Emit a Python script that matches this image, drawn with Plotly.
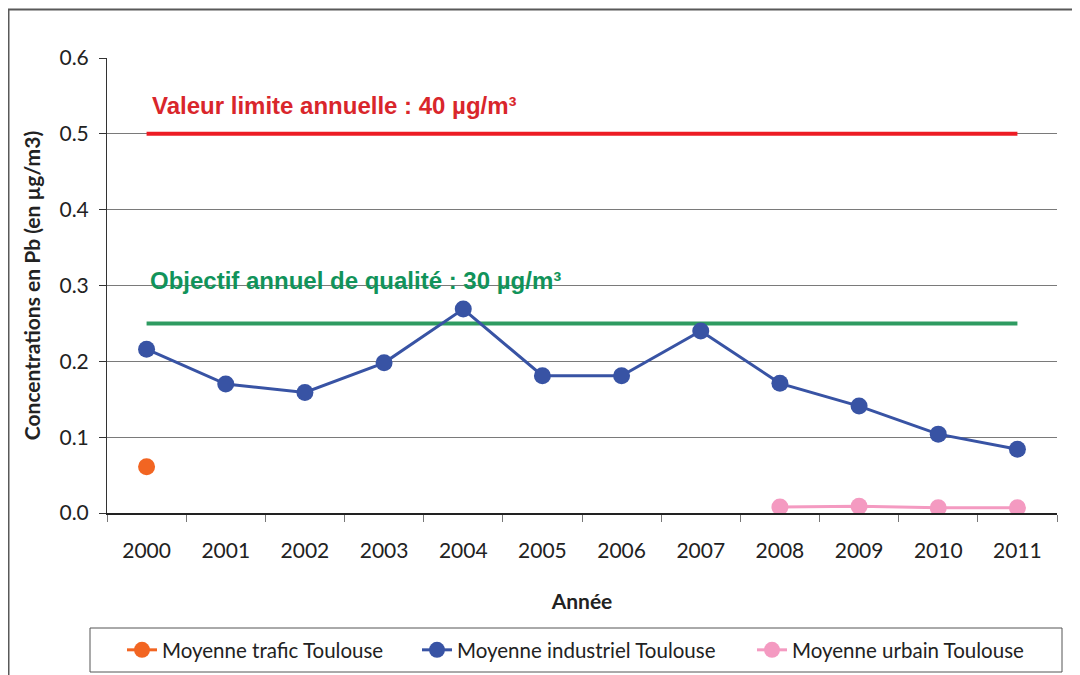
import plotly.graph_objects as go

years = ["2000", "2001", "2002", "2003", "2004", "2005", "2006", "2007", "2008", "2009", "2010", "2011"]
industriel = [0.216, 0.170, 0.159, 0.198, 0.269, 0.181, 0.181, 0.240, 0.171, 0.141, 0.104, 0.084]
trafic = [0.061, None, None, None, None, None, None, None, None, None, None, None]
urbain = [None, None, None, None, None, None, None, None, 0.008, 0.009, 0.007, 0.007]
valeur_limite = [0.5] * 12
objectif_qualite = [0.25] * 12

# figure coordinates (page has an 8px body margin)
W, H = 1080, 675
L, R, T, B = 99, 31, 50, 170
pw = W - L - R
ph = H - T - B
Y0 = H - B  # pixel row of y=0


def px(x):
    return (x - L) / pw


def py(y):
    return (Y0 - y) / ph


fig = go.Figure()

fig.add_trace(go.Scatter(x=years, y=valeur_limite, mode="lines",
                         line=dict(color="#ED1C24", width=4), showlegend=False, hoverinfo="skip"))
fig.add_trace(go.Scatter(x=years, y=objectif_qualite, mode="lines",
                         line=dict(color="#2E9B61", width=4), showlegend=False, hoverinfo="skip"))

fig.add_trace(go.Scatter(x=years, y=trafic, mode="lines+markers", name="Moyenne trafic Toulouse",
                         line=dict(color="#F26522", width=3),
                         marker=dict(color="#F26522", size=17), legend="legend"))
fig.add_trace(go.Scatter(x=years, y=industriel, mode="lines+markers", name="Moyenne industriel Toulouse",
                         line=dict(color="#3853A4", width=3),
                         marker=dict(color="#3853A4", size=17), legend="legend2"))
fig.add_trace(go.Scatter(x=years, y=urbain, mode="lines+markers", name="Moyenne urbain Toulouse",
                         line=dict(color="#F49AC1", width=3),
                         marker=dict(color="#F49AC1", size=17), legend="legend3"))

fig.add_annotation(x=px(142), xref="paper", y=py(97) * 0.6, yref="y",
                   text="<b>Valeur limite annuelle : 40 µg/m³</b>", showarrow=False,
                   xanchor="left", yanchor="middle",
                   font=dict(family="Liberation Sans, Arial", size=24, color="#D9262B"))
fig.add_annotation(x=px(140), xref="paper", y=py(272) * 0.6, yref="y",
                   text="<b>Objectif annuel de qualité : 30 µg/m³</b>", showarrow=False,
                   xanchor="left", yanchor="middle",
                   font=dict(family="Liberation Sans, Arial", size=24, color="#11935A"))

# outer chart border
fig.add_shape(type="rect", xref="paper", yref="paper",
              x0=px(0.5), x1=px(1095), y0=py(690), y1=py(1.5),
              line=dict(color="#595959", width=2), fillcolor="rgba(0,0,0,0)", layer="below")
# legend box
fig.add_shape(type="rect", xref="paper", yref="paper",
              x0=px(82), x1=px(1054), y0=py(664), y1=py(620),
              line=dict(color="#555555", width=1), fillcolor="rgba(0,0,0,0)", layer="below")

leg_common = dict(orientation="h", yanchor="middle", y=py(642), xanchor="left",
                  bgcolor="rgba(0,0,0,0)", borderwidth=0, itemwidth=30,
                  font=dict(size=20.5, color="#222222"))

fig.update_layout(
    width=W, height=H,
    margin=dict(l=L, r=R, t=T, b=B),
    paper_bgcolor="white", plot_bgcolor="white",
    font=dict(family="Lato, Open Sans, sans-serif", size=20, color="#222222"),
    xaxis=dict(type="category", range=[-0.5, 11.5], showline=True, linecolor="#222222", linewidth=1.5,
               ticks="outside", tickson="boundaries", ticklen=7, tickcolor="#777777",
               showgrid=False, tickfont=dict(size=21), ticklabelstandoff=18,
               title=dict(text="<b>Année</b>", font=dict(size=21), standoff=33)),
    yaxis=dict(range=[0, 0.6], dtick=0.1, tickformat=".1f", showline=True, linecolor="#333333",
               linewidth=1, ticks="outside", ticklen=7, tickcolor="#333333",
               showgrid=True, gridcolor="#7a7a7a", gridwidth=1, zeroline=False,
               tickfont=dict(size=21), ticklabelstandoff=6,
               title=dict(text="<b>Concentrations en Pb (en µg/m3)</b>", font=dict(size=21), standoff=13)),
    legend=dict(x=px(114), **leg_common),
    legend2=dict(x=px(409), **leg_common),
    legend3=dict(x=px(744), **leg_common),
)

fig.write_html("out.html")
